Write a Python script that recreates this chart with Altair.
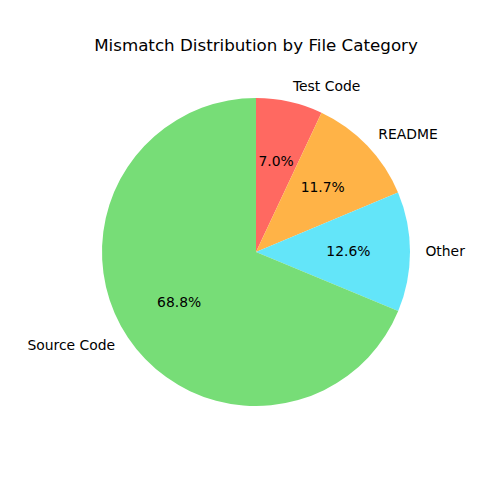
import altair as alt
import pandas as pd

categories = ["Test Code", "README", "Other", "Source Code"]
values = [7.0, 11.7, 12.6, 68.8]
colors = ["#ff6961", "#ffb347", "#63e5f9", "#77dd77"]
title_text = "Mismatch Distribution by File Category"

df = pd.DataFrame({"category": categories, "value": values, "idx": list(range(len(categories)))})

CX, CY, R = 248, 244, 154
FONT = "DejaVu Sans"

base = alt.Chart(df)

arcs = base.mark_arc(radius=R).encode(
    theta=alt.Theta("value:Q", stack=True),
    color=alt.Color("category:N", scale=alt.Scale(domain=categories, range=colors), legend=None),
    order=alt.Order("idx:Q", sort="ascending"),
    x=alt.value(CX),
    y=alt.value(CY),
)

geo = base.transform_window(
    cum="sum(value)", sort=[alt.SortField("idx")], frame=[None, 0]
).transform_joinaggregate(total="sum(value)").transform_calculate(
    mid="(datum.cum - datum.value/2) / datum.total * 2 * PI",
).transform_calculate(
    lx=f"{CX} + {1.1 * R} * sin(datum.mid)",
    ly=f"{CY} - {1.1 * R} * cos(datum.mid)",
    px=f"{CX} + {0.6 * R} * sin(datum.mid)",
    py=f"{CY} - {0.6 * R} * cos(datum.mid)",
    pct="format(datum.value, '.1f') + '%'",
)

right_labels = geo.transform_filter("sin(datum.mid) >= 0").mark_text(
    align="left", baseline="middle", font=FONT, fontSize=13.9, color="black"
).encode(x=alt.X("lx:Q", scale=None), y=alt.Y("ly:Q", scale=None), text="category:N")

left_labels = geo.transform_filter("sin(datum.mid) < 0").mark_text(
    align="right", baseline="middle", font=FONT, fontSize=13.9, color="black"
).encode(x=alt.X("lx:Q", scale=None), y=alt.Y("ly:Q", scale=None), text="category:N")

pct_labels = geo.mark_text(
    align="center", baseline="middle", font=FONT, fontSize=13.9, color="black"
).encode(x=alt.X("px:Q", scale=None), y=alt.Y("py:Q", scale=None), text="pct:N")

title = alt.Chart(pd.DataFrame({"t": [title_text]})).mark_text(
    align="center", baseline="middle", font=FONT, fontSize=16.7, color="black"
).encode(x=alt.value(CX), y=alt.value(38), text="t:N")

chart = alt.layer(arcs, right_labels, left_labels, pct_labels, title).properties(
    width=484, height=484, autosize=alt.AutoSizeParams(type="none"), padding=0
).configure_view(stroke=None)

chart.save("out.html", embed_options={"renderer": "svg", "actions": False})
